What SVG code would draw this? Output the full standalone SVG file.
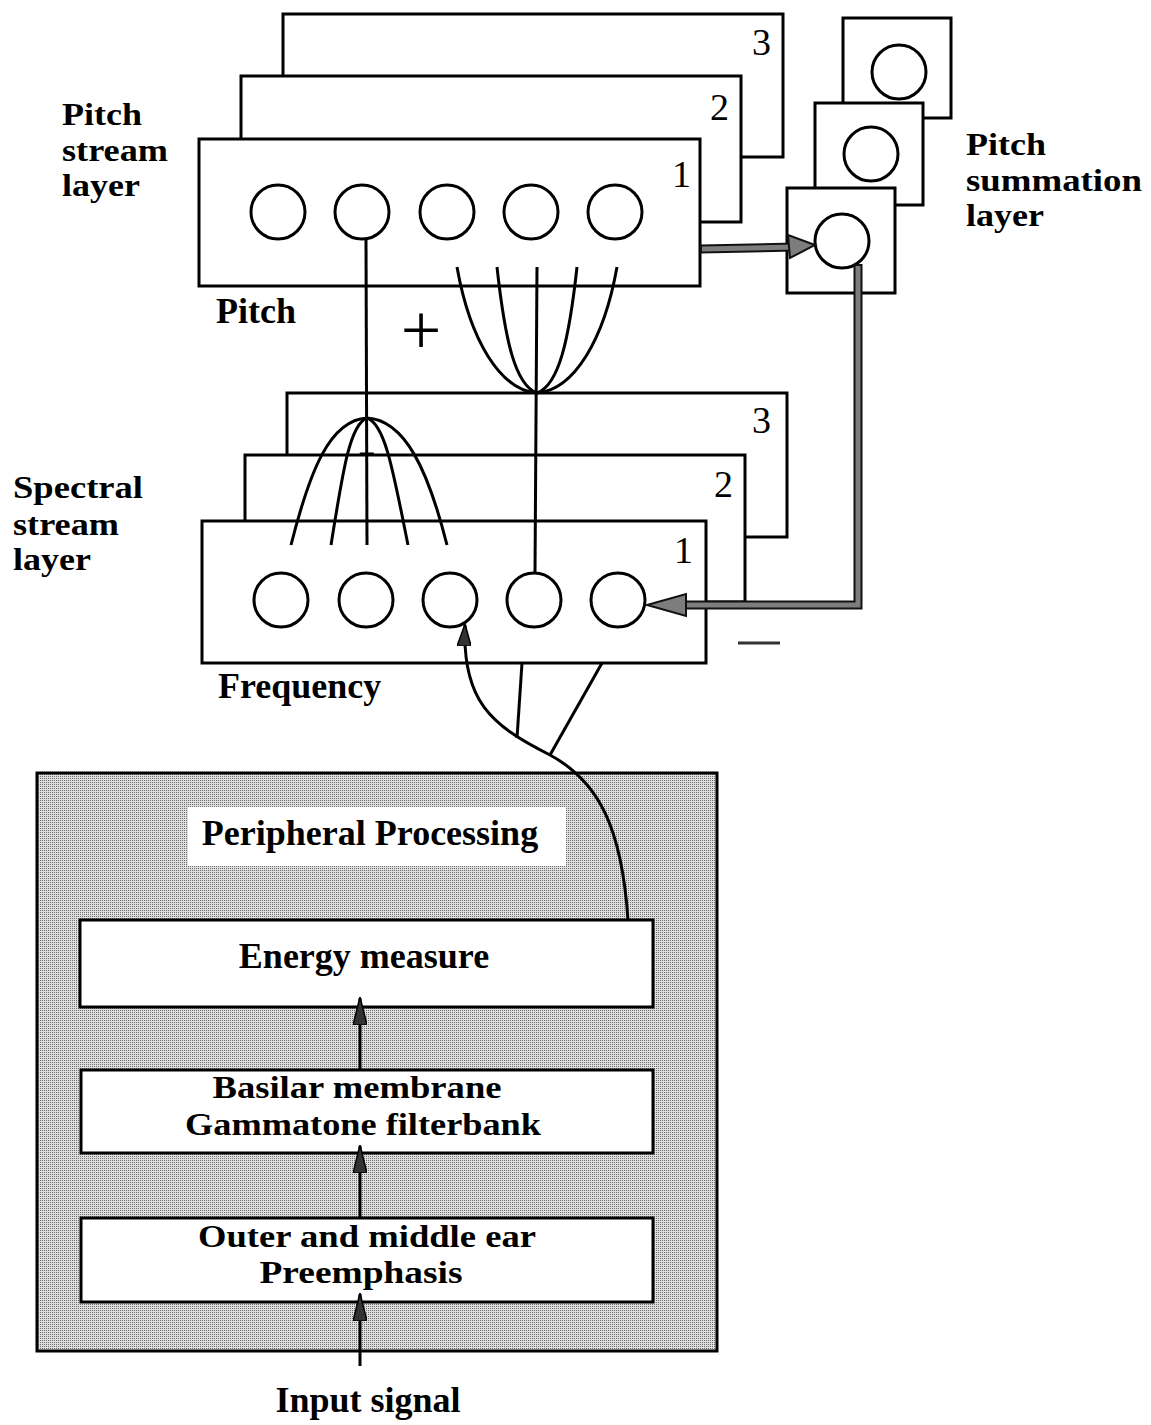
<svg xmlns="http://www.w3.org/2000/svg" width="1151" height="1425" viewBox="0 0 1151 1425">
<style>
.box{fill:#fff;stroke:#000;stroke-width:3}
.cir{fill:#fff;stroke:#000;stroke-width:3}
.ln{fill:none;stroke:#000;stroke-width:3}
.lbl{font-family:"Liberation Serif","Times New Roman",serif;font-weight:bold;font-size:36px;fill:#000}
.ml{font-size:31px}
.num{font-family:"Liberation Serif","Times New Roman",serif;font-size:38px;fill:#000}
.ctr{text-anchor:middle}
.fat1{fill:none;stroke:#111;stroke-width:9}
.fat2{fill:none;stroke:#7d7d7d;stroke-width:5}
</style>
<defs>
<pattern id="halftone" width="2" height="2" patternUnits="userSpaceOnUse">
<rect width="2" height="2" fill="#dedede"/>
<rect width="1" height="1" fill="#6e6e6e"/>
</pattern>
<marker id="ah" viewBox="0 0 28 14" refX="27" refY="7" markerWidth="28" markerHeight="14" markerUnits="userSpaceOnUse" orient="auto">
<path d="M0,0 L28,7 L0,14 z" fill="#333" stroke="#000" stroke-width="1.5"/>
</marker>
<marker id="ah2" viewBox="0 0 22 14" refX="21" refY="7" markerWidth="22" markerHeight="14" markerUnits="userSpaceOnUse" orient="auto">
<path d="M0,0 L22,7 L0,14 z" fill="#333" stroke="#000" stroke-width="1.5"/>
</marker>
</defs>
<rect width="1151" height="1425" fill="#fff"/>

<!-- Pitch stream layer -->
<g id="pitch-layer-3"><rect class="box" x="283" y="14" width="500" height="143"/><text class="num" x="752" y="55">3</text></g>
<g id="pitch-layer-2"><rect class="box" x="241" y="76" width="500" height="146"/><text class="num" x="710" y="120">2</text></g>
<g id="pitch-layer-1"><rect class="box" x="199" y="139" width="501" height="147"/><text class="num" x="672" y="187">1</text>
<circle class="cir" cx="278" cy="212" r="27"/>
<circle class="cir" cx="362" cy="212" r="27"/>
<circle class="cir" cx="447" cy="212" r="27"/>
<circle class="cir" cx="531" cy="212" r="27"/>
<circle class="cir" cx="615" cy="212" r="27"/>
</g>
<g id="pitch-stream-label">
<text class="lbl ml" x="62" y="125" textLength="80" lengthAdjust="spacingAndGlyphs">Pitch</text>
<text class="lbl ml" x="62" y="161" textLength="106" lengthAdjust="spacingAndGlyphs">stream</text>
<text class="lbl ml" x="62" y="196" textLength="78" lengthAdjust="spacingAndGlyphs">layer</text>
</g>
<g id="pitch-axis-label"><text class="lbl" x="216" y="323">Pitch</text></g>

<!-- Pitch summation layer -->
<g id="sum-3"><rect class="box" x="843" y="18" width="108" height="100"/><circle class="cir" cx="899" cy="72" r="27"/></g>
<g id="sum-2"><rect class="box" x="815" y="103" width="108" height="102"/><circle class="cir" cx="871" cy="154" r="27"/></g>
<g id="sum-1"><rect class="box" x="787" y="188" width="108" height="105"/><circle class="cir" cx="842" cy="241" r="27"/></g>
<g id="sum-label">
<text class="lbl ml" x="966" y="155" textLength="80" lengthAdjust="spacingAndGlyphs">Pitch</text>
<text class="lbl ml" x="966" y="191" textLength="176" lengthAdjust="spacingAndGlyphs">summation</text>
<text class="lbl ml" x="966" y="226" textLength="78" lengthAdjust="spacingAndGlyphs">layer</text>
</g>

<!-- Spectral stream layer -->
<g id="spec-layer-3"><rect class="box" x="287" y="393" width="500" height="144"/><text class="num" x="752" y="433">3</text></g>
<g id="spec-layer-2"><rect class="box" x="245" y="455" width="500" height="147"/><text class="num" x="714" y="497">2</text></g>
<g id="spec-layer-1"><rect class="box" x="202" y="521" width="504" height="142"/><text class="num" x="674" y="563">1</text>
<circle class="cir" cx="281" cy="600" r="27"/>
<circle class="cir" cx="366" cy="600" r="27"/>
<circle class="cir" cx="450" cy="600" r="27"/>
<circle class="cir" cx="534" cy="600" r="27"/>
<circle class="cir" cx="618" cy="600" r="27"/>
</g>
<g id="spec-label">
<text class="lbl ml" x="13" y="498" textLength="130" lengthAdjust="spacingAndGlyphs">Spectral</text>
<text class="lbl ml" x="13" y="535" textLength="106" lengthAdjust="spacingAndGlyphs">stream</text>
<text class="lbl ml" x="13" y="570" textLength="78" lengthAdjust="spacingAndGlyphs">layer</text>
</g>
<g id="freq-label"><text class="lbl" x="218" y="698">Frequency</text></g>

<!-- Peripheral processing -->
<g id="peripheral">
<rect x="37" y="773" width="680" height="578" fill="url(#halftone)" stroke="#000" stroke-width="3"/>
<rect x="188" y="807" width="378" height="59" fill="#fff"/>
<text class="lbl ctr" x="370" y="845">Peripheral Processing</text>
</g>
<g id="energy"><rect class="box" x="80" y="920" width="573" height="87"/><text class="lbl ctr" x="364" y="968">Energy measure</text></g>
<g id="basilar"><rect class="box" x="81" y="1070" width="572" height="83"/>
<text class="lbl ml ctr" x="357" y="1098" textLength="289" lengthAdjust="spacingAndGlyphs">Basilar membrane</text>
<text class="lbl ml ctr" x="363" y="1135" textLength="356" lengthAdjust="spacingAndGlyphs">Gammatone filterbank</text></g>
<g id="outer"><rect class="box" x="81" y="1218" width="572" height="84"/>
<text class="lbl ml ctr" x="367" y="1247" textLength="338" lengthAdjust="spacingAndGlyphs">Outer and middle ear</text>
<text class="lbl ml ctr" x="361" y="1283" textLength="203" lengthAdjust="spacingAndGlyphs">Preemphasis</text></g>
<g id="input-label"><text class="lbl ctr" x="368" y="1412">Input signal</text></g>

<!-- Signs -->
<g id="signs">
<text class="num ctr" x="421" y="354" style="font-size:72px">+</text>
<text class="num ctr" x="367" y="463" style="font-size:30px">−</text>
<line x1="738" y1="643" x2="780" y2="643" stroke="#333" stroke-width="3"/>
</g>

<!-- Connectors -->
<g id="connectors">
<line class="ln" x1="366" y1="240" x2="367" y2="545"/>
<path class="ln" d="M291,545 C310,470 330,420 367,418"/>
<path class="ln" d="M331,545 C343,470 350,424 367,418"/>
<path class="ln" d="M447,545 C428,470 405,420 367,418"/>
<path class="ln" d="M408,545 C393,470 385,424 367,418"/>
<path class="ln" d="M457,267 C470,340 500,390 537,393"/>
<path class="ln" d="M497,267 C505,340 515,385 537,393"/>
<path class="ln" d="M617,267 C604,340 574,390 537,393"/>
<path class="ln" d="M577,267 C569,340 559,385 537,393"/>
<line class="ln" x1="537" y1="267" x2="535" y2="573"/>
<path class="fat1" d="M700,249 L795,247"/>
<path class="fat2" d="M702,249 L795,247"/>
<polygon points="815,245 788,235 790,258" fill="#7d7d7d" stroke="#111" stroke-width="2"/>
<path class="fat1" d="M858,264 L858,605 L684,605"/>
<path class="fat2" d="M858,266 L858,605 L684,605"/>
<polygon points="647,605 686,594 686,616" fill="#7d7d7d" stroke="#111" stroke-width="2"/>
<path class="ln" d="M628,920 C622,830 600,782 550,755 C490,725 462,700 465,625" marker-end="url(#ah2)"/>
<line class="ln" x1="517" y1="738" x2="522" y2="663"/>
<line class="ln" x1="550" y1="755" x2="602" y2="663"/>
<line class="ln" x1="360" y1="1070" x2="360" y2="998" marker-end="url(#ah)"/>
<line class="ln" x1="360" y1="1218" x2="360" y2="1146" marker-end="url(#ah)"/>
<line class="ln" x1="360" y1="1366" x2="360" y2="1294" marker-end="url(#ah)"/>
</g>
</svg>
